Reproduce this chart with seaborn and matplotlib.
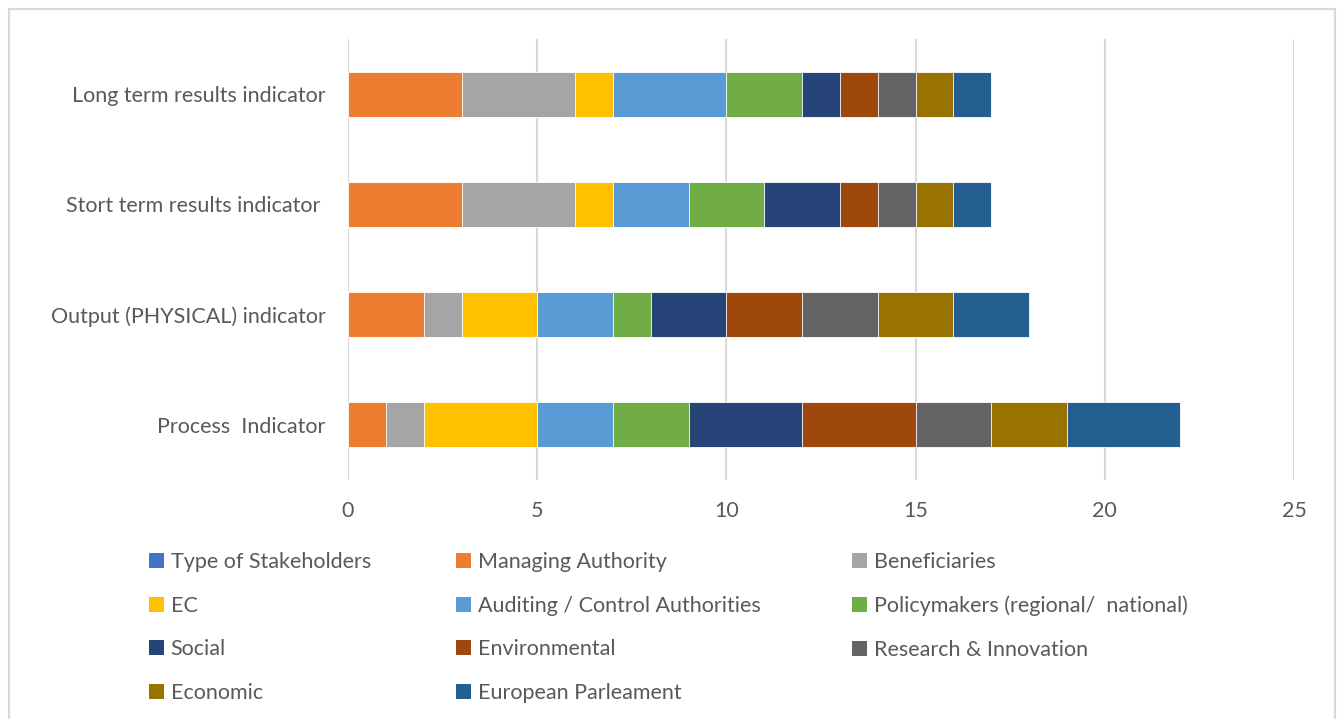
import matplotlib
matplotlib.use("Agg")
import matplotlib.pyplot as plt
import seaborn as sns
import numpy as np
import pandas as pd
from matplotlib.patches import Patch, Rectangle

categories = ["Long term results indicator", "Stort term results indicator ",
              "Output (PHYSICAL) indicator", "Process  Indicator"]
series_names = ["Type of Stakeholders", "Managing Authority", "Beneficiaries", "EC",
                "Auditing / Control Authorities", "Policymakers (regional/  national)",
                "Social", "Environmental", "Research & Innovation", "Economic",
                "European Parleament"]
type_of_stakeholders = [0, 0, 0, 0]
managing_authority = [3, 3, 2, 1]
beneficiaries = [3, 3, 1, 1]
ec = [1, 1, 2, 3]
auditing = [3, 2, 2, 2]
policymakers = [2, 2, 1, 2]
social = [1, 2, 2, 3]
environmental = [1, 1, 2, 3]
research = [1, 1, 2, 2]
economic = [1, 1, 2, 2]
european_parl = [1, 1, 2, 3]
colors = ["#4472C4", "#ED7D31", "#A5A5A5", "#FFC000", "#5B9BD5", "#70AD47",
          "#264478", "#9E480E", "#636363", "#997300", "#255E91"]
xticks = [0, 5, 10, 15, 20, 25]

values = [type_of_stakeholders, managing_authority, beneficiaries, ec, auditing,
          policymakers, social, environmental, research, economic, european_parl]

sns.set_theme(style="white")
plt.rcParams["font.family"] = ["Lato", "DejaVu Sans"]
txt = "#595959"
fs = 15.5

fig = plt.figure(figsize=(13.41, 7.19), dpi=100)
ax = fig.add_axes([348 / 1341, 1 - 480 / 719, (1294 - 348) / 1341, 441 / 719])

cum = np.cumsum(np.array(values, dtype=float), axis=0)
# draw from largest cumulative to smallest so segments stack visually
for i in range(len(series_names) - 1, 0, -1):
    df = pd.DataFrame({"cat": categories, "val": cum[i]})
    sns.barplot(data=df, x="val", y="cat", order=categories, orient="h",
                color=colors[i], saturation=1, width=0.41, ax=ax,
                edgecolor="white", linewidth=0.6, zorder=3)

ax.set_xlim(0, 25)
ax.set_ylim(3.5, -0.5)
ax.set_xticks(xticks)
ax.set_xticklabels([str(t) for t in xticks])
ax.set_xlabel("")
ax.set_ylabel("")
ax.grid(axis="x", color="#D9D9D9", linewidth=1.5, zorder=0)
ax.grid(axis="y", visible=False)
for s in ax.spines.values():
    s.set_visible(False)
ax.tick_params(axis="y", length=0, pad=16, labelsize=fs, labelcolor=txt)
ax.tick_params(axis="x", length=0, pad=15, labelsize=fs, labelcolor=txt)
ax.set_axisbelow(True)

# legend in three columns at fixed positions
col_x = [149 / 1341, 456 / 1341, 852 / 1341]
for c in range(3):
    idx = list(range(c, len(series_names), 3))
    handles = [Patch(facecolor=colors[i], edgecolor="none") for i in idx]
    labels = [series_names[i] for i in idx]
    leg = fig.legend(handles, labels, loc="upper left",
                     bbox_to_anchor=(col_x[c], 1 - 552 / 719),
                     frameon=False, fontsize=fs, labelcolor=txt,
                     handlelength=0.7, handleheight=0.7, handletextpad=0.3,
                     labelspacing=1.1, borderpad=0, borderaxespad=0)

fig.patches.append(Rectangle((9 / 1341, -0.05), (1335 - 9) / 1341, 1.05 - 9 / 719,
                             transform=fig.transFigure, fill=False,
                             edgecolor="#D9D9D9", linewidth=1.5))

fig.savefig("out.png", dpi=100, facecolor="white")
